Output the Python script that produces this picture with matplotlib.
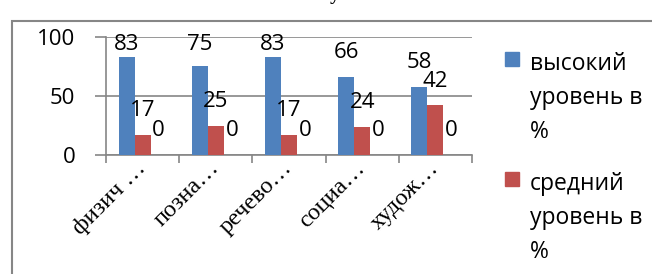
import numpy as np
import matplotlib
matplotlib.use("Agg")
import matplotlib.pyplot as plt
from matplotlib.patches import Rectangle
from matplotlib.transforms import ScaledTranslation

categories = ['физич …', 'позна…', 'речево…', 'социа…', 'худож…']
high = [83, 75, 83, 66, 58]
mid = [17, 25, 17, 24, 42]
low = [0, 0, 0, 0, 0]
series_names = ['высокий\nуровень в\n%', 'средний\nуровень в\n%']

W, H = 652, 274
fig = plt.figure(figsize=(W / 100, H / 100), dpi=100)
ax = fig.add_axes([106 / W, 1 - 155 / H, (472 - 106) / W, (155 - 37) / H])

grey = '#868686'
colors = ['#4F81BD', '#C0504D', '#9BBB59']
sans = 'Open Sans'

x = np.arange(len(categories))
bw = 0.219
for k, vals in enumerate([high, mid, low]):
    xs = x + (k - 1) * bw
    ax.bar(xs, vals, width=bw, color=colors[k], zorder=3)
    for xi, v in zip(xs, vals):
        ax.text(xi, min(v + 20.5, 94), str(v), ha='center', va='center',
                fontsize=16, family=sans, zorder=4, clip_on=False)

ax.set_xlim(-0.5, len(categories) - 0.5)
ax.set_ylim(0, 100)
ax.set_yticks([0, 50, 100])
ax.yaxis.grid(True, color=grey, lw=1.2, zorder=0)
for s in ['top', 'right']:
    ax.spines[s].set_visible(False)
for s in ['left', 'bottom']:
    ax.spines[s].set_color(grey)
    ax.spines[s].set_linewidth(1.2)
ax.tick_params(axis='y', length=8, color=grey, width=1.2, pad=14, labelsize=16)
for lab in ax.get_yticklabels():
    lab.set_family(sans)

ax.set_xticks(x)
ax.set_xticks(np.arange(-0.5, len(categories), 1), minor=True)
ax.tick_params(axis='x', which='minor', length=6, color=grey, width=1.2)
ax.tick_params(axis='x', which='major', length=0, pad=10)
ax.set_xticklabels(categories, rotation=45, ha='right', va='baseline',
                   rotation_mode='anchor', family='Liberation Serif', fontsize=17.5)
off = ScaledTranslation(4 / 100, 0, fig.dpi_scale_trans)
for lab in ax.get_xticklabels():
    lab.set_transform(lab.get_transform() + off)

# outer chart frame
fig.patches.append(Rectangle((12 / W, -0.05), 1.1, 1 - 21 / H + 0.05, transform=fig.transFigure,
                             fill=False, edgecolor=grey, lw=1.5))

# cut-off title
fig.text(335 / W, 1.0, 'у', ha='center', va='baseline', fontsize=14,
         family='Liberation Serif', weight='bold')

# legend
for k, name in enumerate(series_names):
    top = 52 + k * 120
    fig.patches.append(Rectangle((505 / W, 1 - (top + 14) / H), 14 / W, 14 / H,
                                 transform=fig.transFigure, color=colors[k]))
    fig.text(530 / W, 1 - top / H, name, ha='left', va='top', fontsize=16.5,
             family=sans, linespacing=1.55)

plt.savefig('out.png', dpi=100)
